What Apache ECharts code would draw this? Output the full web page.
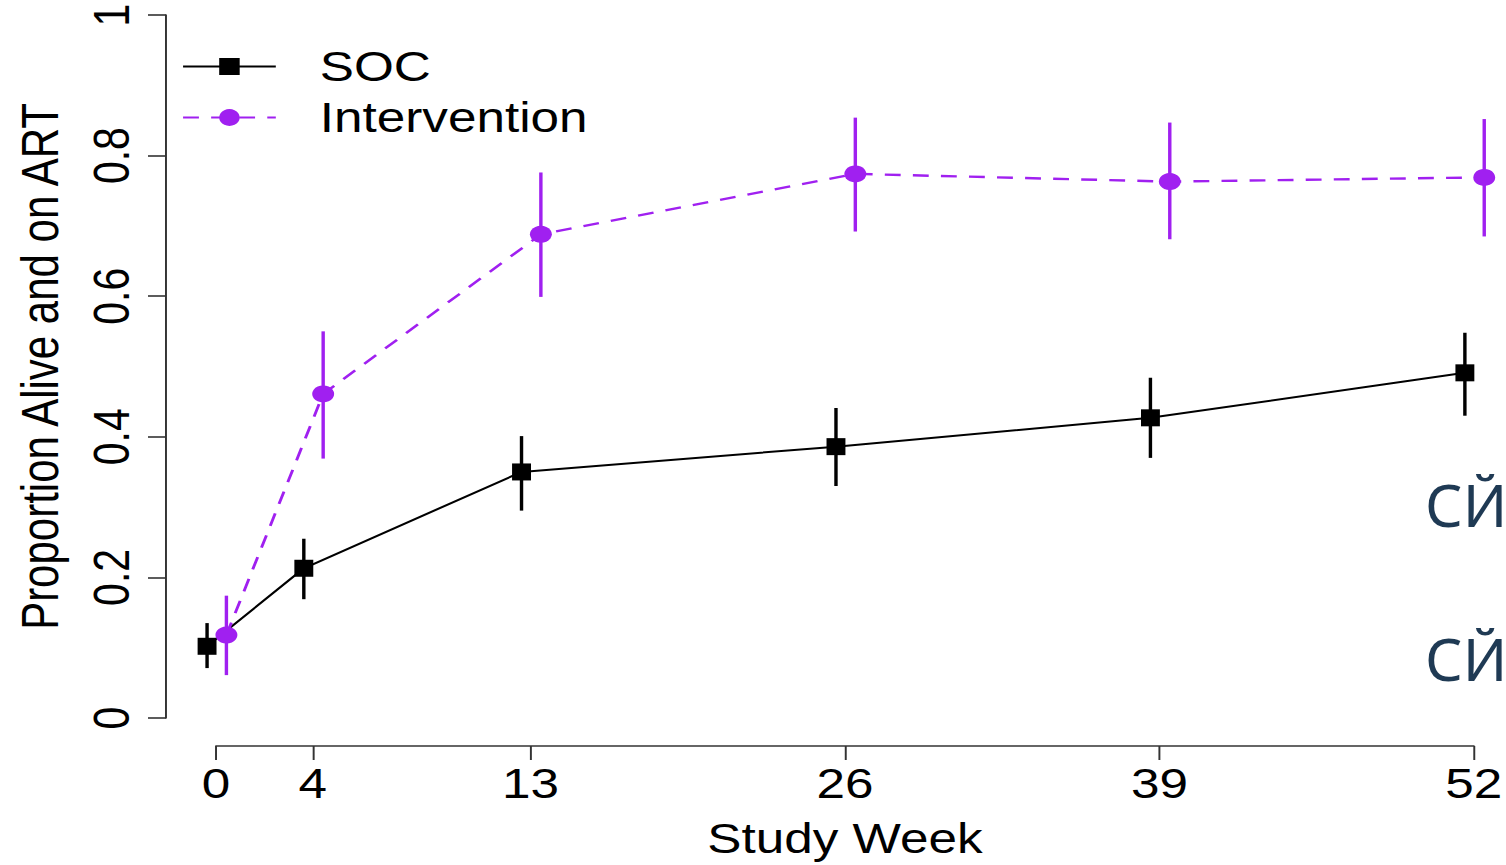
<!DOCTYPE html>
<html>
<head>
<meta charset="utf-8">
<script src="https://cdn.jsdelivr.net/npm/echarts@6/dist/echarts.min.js"></script>
<style>
html,body{margin:0;padding:0;background:#fff;}
#wrap{position:absolute;left:0;top:0;width:1506px;height:865px;overflow:hidden;background:#fff;}
#c{width:1234px;height:865px;transform-origin:0 0;}
</style>
</head>
<body>
<div id="wrap"><div id="c"></div></div>
<script>
// ---- data ----
const weeks = [0, 4, 13, 26, 39, 52];
const socMean = [0.102, 0.213, 0.350, 0.386, 0.427, 0.491];
const socLow  = [0.071, 0.169, 0.295, 0.330, 0.370, 0.430];
const socHigh = [0.135, 0.255, 0.401, 0.441, 0.484, 0.548];
const intMean = [0.118, 0.461, 0.688, 0.774, 0.763, 0.769];
const intLow  = [0.061, 0.369, 0.599, 0.692, 0.681, 0.685];
const intHigh = [0.174, 0.550, 0.776, 0.854, 0.847, 0.852];
const socShift = -0.37;
const intShift = 0.43;
const xTickValues = [0, 4, 13, 26, 39, 52];
const seriesNames = ['SOC', 'Intervention'];
const sideText = ['СЙ', 'СЙ'];

// horizontal stretch of the original picture
const S = 1506 / 1234;
const el = document.getElementById('c');
el.style.transform = 'scaleX(' + S + ')';

const FONT = 'Liberation Sans, Arial, Helvetica, sans-serif';
const PURPLE = '#a020f0';

function errBar(color) {
  return function (params, api) {
    const x = api.value(0), lo = api.value(1), hi = api.value(2);
    const p1 = api.coord([x, lo]);
    const p2 = api.coord([x, hi]);
    return {
      type: 'line',
      shape: { x1: p1[0], y1: p1[1], x2: p2[0], y2: p2[1] },
      style: { stroke: color, lineWidth: 2.8 }
    };
  };
}

const chart = echarts.init(el, null, { renderer: 'svg', width: 1234, height: 865 });
chart.setOption({
  animation: false,
  backgroundColor: '#fff',
  grid: { left: 177, right: 24.6, top: 15, bottom: 145, containLabel: false },
  legend: {
    orient: 'vertical',
    left: 149,
    top: 45.5,
    padding: 0,
    itemWidth: 76,
    itemHeight: 21,
    itemGap: 9,
    data: seriesNames,
    textStyle: { fontSize: 42, color: '#000', fontFamily: FONT, padding: [0, 0, 0, 31] }
  },
  xAxis: {
    type: 'value',
    min: 0,
    max: 52,
    offset: 28,
    name: 'Study Week',
    nameLocation: 'middle',
    nameGap: 72,
    nameTextStyle: { fontSize: 42, color: '#000', fontFamily: FONT },
    axisLine: { show: true, onZero: false, lineStyle: { color: '#333', width: 1.6 } },
    axisTick: { show: true, length: 14, customValues: xTickValues, lineStyle: { color: '#333', width: 1.6 } },
    axisLabel: { customValues: xTickValues, fontSize: 42, color: '#000', fontFamily: FONT, margin: 17 },
    splitLine: { show: false }
  },
  yAxis: {
    type: 'value',
    min: 0,
    max: 1,
    interval: 0.2,
    offset: 41,
    name: 'Proportion Alive and on ART',
    nameLocation: 'middle',
    nameGap: 82,
    nameTextStyle: { fontSize: 42, color: '#000', fontFamily: FONT },
    axisLine: { show: true, onZero: false, lineStyle: { color: '#333', width: 1.6 } },
    axisTick: { show: true, length: 14.75, lineStyle: { color: '#333', width: 1.6 } },
    axisLabel: {
      rotate: 90, fontSize: 41, color: '#000', fontFamily: FONT, margin: 24,
      formatter: function (v) { return String(+v.toFixed(1)); }
    },
    splitLine: { show: false }
  },
  graphic: sideText.map(function (t, i) {
    return {
      type: 'text',
      x: 1425 / S,
      y: i === 0 ? 504 : 658,
      scaleX: 1 / S,
      style: {
        text: t, fontSize: 59, fontFamily: 'Noto Sans, sans-serif',
        fill: '#1f3a54', textVerticalAlign: 'middle'
      }
    };
  }),
  series: [
    {
      name: 'SOC bars', type: 'custom', z: 2, clip: false,
      renderItem: errBar('#000'),
      encode: { x: 0, y: [1, 2] },
      data: weeks.map(function (w, i) { return [w + socShift, socLow[i], socHigh[i]]; })
    },
    {
      name: 'SOC', type: 'line', z: 3, clip: false,
      symbol: 'rect', symbolSize: [15.5, 17],
      itemStyle: { color: '#000' },
      lineStyle: { color: '#000', width: 2 },
      data: weeks.map(function (w, i) { return [w + socShift, socMean[i]]; })
    },
    {
      name: 'Intervention bars', type: 'custom', z: 4, clip: false,
      renderItem: errBar(PURPLE),
      encode: { x: 0, y: [1, 2] },
      data: weeks.map(function (w, i) { return [w + intShift, intLow[i], intHigh[i]]; })
    },
    {
      name: 'Intervention', type: 'line', z: 5, clip: false,
      symbol: 'circle', symbolSize: [18, 17],
      itemStyle: { color: PURPLE },
      lineStyle: { color: PURPLE, width: 2.4, type: [13, 10] },
      data: weeks.map(function (w, i) { return [w + intShift, intMean[i]]; })
    }
  ]
});
</script>
</body>
</html>
